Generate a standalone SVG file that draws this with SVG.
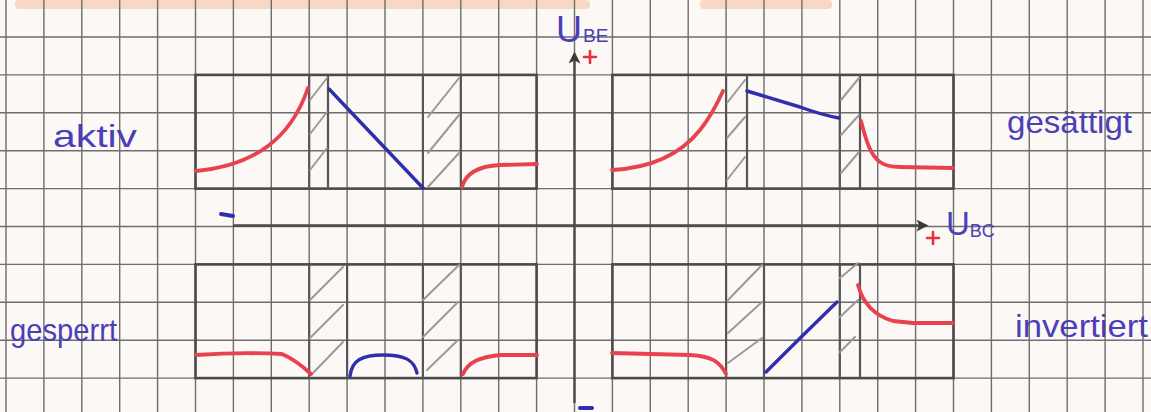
<svg xmlns="http://www.w3.org/2000/svg" width="1151" height="412" viewBox="0 0 1151 412">
<defs>
<style>
.grid{stroke:#6e6e6e;stroke-width:1.4;fill:none}
.box{stroke:#4a4a4a;stroke-width:2.6;fill:none}
.col{stroke:#555;stroke-width:2.2;fill:none}
.hatch{stroke:#9a9a9a;stroke-width:2;fill:none;stroke-linecap:round}
.red{stroke:#e8424f;stroke-width:3.8;fill:none;stroke-linecap:round;stroke-linejoin:round}
.blue{stroke:#2f2fae;stroke-width:3.4;fill:none;stroke-linecap:round;stroke-linejoin:round}
.lbl{font-family:"Liberation Sans",Arial,sans-serif;fill:#4a3fb8}
.plus{stroke:#e8303f;stroke-width:2.6;stroke-linecap:round}
.axis{stroke:#4a4a4a;stroke-width:2.4;fill:none}
</style>
<marker id="arr" viewBox="0 0 10 10" refX="8" refY="5" markerWidth="16" markerHeight="12" orient="auto" markerUnits="userSpaceOnUse">
<path d="M0,0 L10,5 L0,10 L2.5,5 Z" fill="#3a3a3a"/>
</marker>
</defs>
<rect x="0" y="0" width="1151" height="412" fill="#fbf8f5"/>
<rect x="15" y="0" width="575" height="9" rx="4" fill="#f6c9b0" opacity="0.7"/>
<rect x="700" y="0" width="132" height="9" rx="4" fill="#f6c9b0" opacity="0.7"/>
<g id="grid" class="grid">
<path d="M6,0V412M43.9,0V412M81.8,0V412M119.7,0V412M157.6,0V412M195.5,0V412M233.4,0V412M271.3,0V412M309.2,0V412M347.1,0V412M385,0V412M422.9,0V412M460.8,0V412M498.7,0V412M536.6,0V412M574.5,0V412M612.4,0V412M650.3,0V412M688.2,0V412M726.1,0V412M764,0V412M801.9,0V412M839.8,0V412M877.7,0V412M915.6,0V412M953.5,0V412M991.4,0V412M1029.3,0V412M1067.2,0V412M1105.1,0V412M1143,0V412"/>
<path d="M0,37H1151M0,74.9H1151M0,112.8H1151M0,150.7H1151M0,188.6H1151M0,226.5H1151M0,264.4H1151M0,302.3H1151M0,340.2H1151M0,378.1H1151"/>
</g>
<g id="connectors">
<line class="axis" x1="574.5" y1="403" x2="574.5" y2="54" marker-end="url(#arr)"/>
<line class="axis" x1="233" y1="225.5" x2="926" y2="225.5" marker-end="url(#arr)"/>
</g>
<g id="panel-aktiv">
<rect class="box" x="195.5" y="74.9" width="341.1" height="113.7"/>
<path class="col" d="M309.2,74.9V188.6M328,74.9V188.6M422.9,74.9V188.6M460.8,74.9V188.6"/>
<path class="hatch" d="M310,100L327,78M310,134L327,112M310,170L327,148M428,117L459,78M428,153L459,115M428,187L459,153"/>
<path class="red" d="M196,171 Q240,167 268,146 Q295,126 308,88"/>
<path class="blue" d="M329,89 L423,188"/>
<path class="red" d="M462,187 C466,172 480,166 500,165 L537,164"/>
</g>
<g id="panel-gesaettigt">
<rect class="box" x="612.4" y="74.9" width="341.1" height="113.7"/>
<path class="col" d="M726.1,74.9V188.6M747,74.9V188.6M839.8,74.9V188.6M860,74.9V188.6"/>
<path class="hatch" d="M727,103L745,80M727,138L745,117M727,180L745,157M841,100L859,78M841,135L859,115M841,173L859,152"/>
<path class="red" d="M612,170 C650,168 680,155 700,130 C712,115 718,102 723,91"/>
<path class="blue" d="M747,91 L800,107 Q822,115 839,118"/>
<path class="red" d="M861,121 C866,140 870,155 880,162 Q887,167 900,167 L953,168"/>
</g>
<g id="panel-gesperrt">
<rect class="box" x="195.5" y="264.4" width="341.1" height="113.7"/>
<path class="col" d="M309.2,264.4V378.1M347.1,264.4V378.1M422.9,264.4V378.1M460.8,264.4V378.1"/>
<path class="hatch" d="M310,300L343,267M310,338L343,305M313,373L343,342M423,300L459,265M423,337L458,302M427,370L458,340"/>
<path class="red" d="M196,355 Q240,352 282,354 Q296,360 311,374"/>
<path class="blue" d="M350,376 C352,360 362,355 383,355 C405,355 414,360 417,373"/>
<path class="red" d="M463,374 C468,362 480,357 500,355 L537,355"/>
</g>
<g id="panel-invertiert">
<rect class="box" x="612.4" y="264.4" width="341.1" height="113.7"/>
<path class="col" d="M726.1,264.4V378.1M764,264.4V378.1M839.8,264.4V378.1M860,264.4V378.1"/>
<path class="hatch" d="M728,300L762,265M728,333L762,302M728,363L762,338M840,278L858,263M840,317L858,300M840,352L855,337"/>
<path class="red" d="M612,353 L690,355 C712,356 720,362 726,374"/>
<path class="blue" d="M766,372 Q800,338 837,302"/>
<path class="red" d="M858,285 C862,300 872,315 893,321 L913,323 L953,323"/>
</g>
<g id="label-aktiv"><text class="lbl" x="53" y="147" font-size="32" textLength="84" lengthAdjust="spacingAndGlyphs">aktiv</text></g>
<g id="label-gesaettigt"><text class="lbl" x="1007" y="133" font-size="32" textLength="125" lengthAdjust="spacingAndGlyphs">gesättigt</text></g>
<g id="label-gesperrt"><text class="lbl" x="10" y="341" font-size="32" textLength="107" lengthAdjust="spacingAndGlyphs">gesperrt</text></g>
<g id="label-invertiert"><text class="lbl" x="1015" y="337" font-size="32" textLength="133" lengthAdjust="spacingAndGlyphs">invertiert</text></g>
<g id="label-ube">
<text class="lbl" x="556" y="42" font-size="36">U<tspan font-size="19" dx="1">BE</tspan></text>
<path class="plus" d="M584,57H596M590,51V63"/>
</g>
<g id="label-ubc">
<text class="lbl" x="946" y="235" font-size="33">U<tspan font-size="18" dx="0" dy="2">BC</tspan></text>
<path class="plus" d="M927,238H939M933,232V244"/>
</g>
<g id="minus-signs">
<path d="M221,214L233,216" stroke="#2f2fae" stroke-width="4" stroke-linecap="round"/>
<path d="M580,408L592,408" stroke="#2f2fae" stroke-width="4" stroke-linecap="round"/>
</g>
</svg>
